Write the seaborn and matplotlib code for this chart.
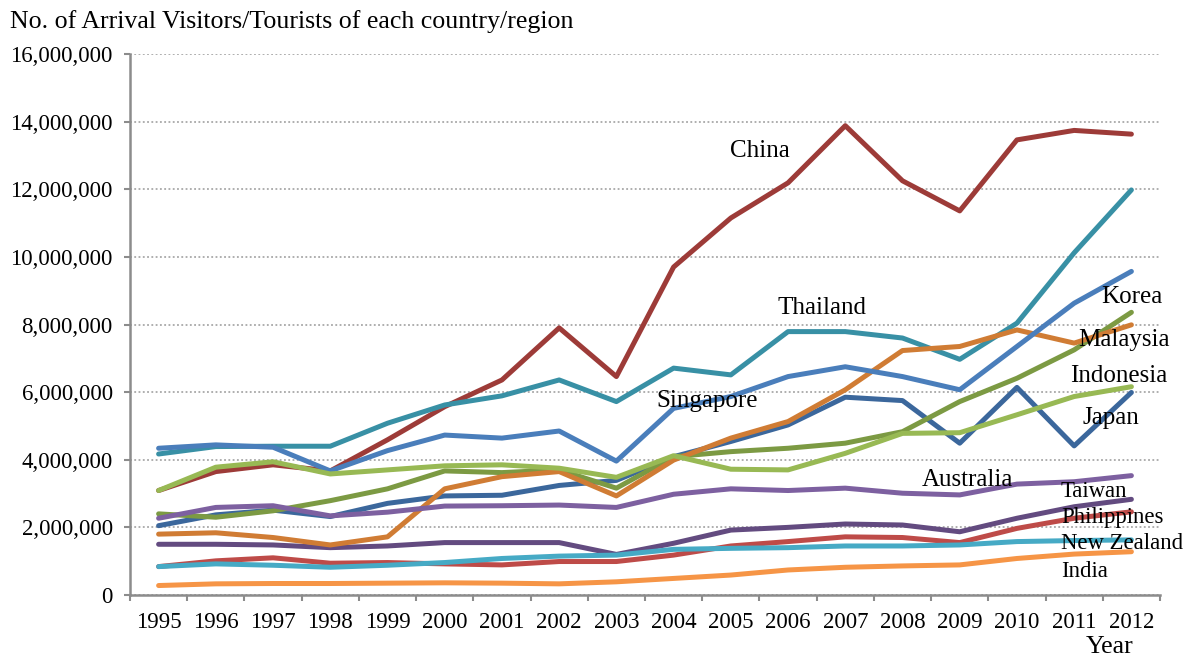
import matplotlib
matplotlib.use("Agg")
import matplotlib.pyplot as plt
import seaborn as sns
import pandas as pd
from matplotlib.ticker import FuncFormatter, MultipleLocator, FixedLocator

# ---------------- data ----------------
years = list(range(1995, 2013))

china = [3.09, 3.65, 3.85, 3.67, 4.59, 5.57, 6.36, 7.90, 6.46, 9.70, 11.15, 12.19, 13.88, 12.25, 11.36, 13.46, 13.74, 13.63]
thailand = [4.17, 4.39, 4.40, 4.40, 5.08, 5.62, 5.89, 6.36, 5.72, 6.71, 6.51, 7.79, 7.79, 7.60, 6.97, 8.04, 10.12, 11.98]
singapore = [4.34, 4.44, 4.37, 3.67, 4.27, 4.73, 4.64, 4.85, 3.96, 5.52, 5.87, 6.46, 6.75, 6.46, 6.07, 7.35, 8.63, 9.57]
korea = [2.40, 2.30, 2.49, 2.79, 3.14, 3.67, 3.62, 3.70, 3.16, 4.09, 4.24, 4.34, 4.49, 4.83, 5.72, 6.41, 7.25, 8.36]
malaysia = [1.80, 1.84, 1.70, 1.48, 1.72, 3.14, 3.50, 3.65, 2.93, 3.99, 4.64, 5.13, 6.07, 7.23, 7.35, 7.84, 7.45, 7.99]
indonesia = [3.09, 3.78, 3.94, 3.58, 3.70, 3.82, 3.85, 3.75, 3.48, 4.12, 3.72, 3.70, 4.19, 4.78, 4.80, 5.33, 5.87, 6.16]
japan = [2.05, 2.37, 2.51, 2.32, 2.71, 2.93, 2.95, 3.24, 3.39, 4.09, 4.54, 5.03, 5.85, 5.75, 4.49, 6.14, 4.41, 5.99]
australia = [2.27, 2.59, 2.64, 2.34, 2.45, 2.63, 2.64, 2.66, 2.59, 2.98, 3.14, 3.09, 3.16, 3.01, 2.96, 3.28, 3.35, 3.53]
taiwan = [1.50, 1.50, 1.48, 1.40, 1.45, 1.55, 1.55, 1.55, 1.20, 1.53, 1.92, 2.00, 2.10, 2.07, 1.87, 2.27, 2.61, 2.83]
philippines = [0.84, 1.01, 1.10, 0.94, 0.96, 0.92, 0.89, 0.99, 0.99, 1.18, 1.45, 1.58, 1.72, 1.70, 1.55, 1.97, 2.27, 2.46]
new_zealand = [0.84, 0.92, 0.88, 0.82, 0.88, 0.96, 1.08, 1.15, 1.18, 1.35, 1.38, 1.40, 1.45, 1.45, 1.48, 1.58, 1.61, 1.63]
india = [0.28, 0.33, 0.34, 0.34, 0.35, 0.36, 0.35, 0.33, 0.39, 0.49, 0.59, 0.74, 0.82, 0.86, 0.89, 1.08, 1.21, 1.28]

series = {
    "Japan": japan, "China": china, "Korea": korea, "Taiwan": taiwan,
    "Thailand": thailand, "Malaysia": malaysia,
    "Singapore": singapore, "Philippines": philippines, "Indonesia": indonesia,
    "Australia": australia, "New Zealand": new_zealand, "India": india,
}

colors = {
    "Singapore": "#4A7EBB", "Philippines": "#BE4B48", "Indonesia": "#98B954",
    "Australia": "#7D60A0", "New Zealand": "#46AAC5", "India": "#F69546",
    "Japan": "#3B679C", "China": "#9D3B38", "Korea": "#7C9A43",
    "Taiwan": "#634B80", "Thailand": "#3890A5", "Malaysia": "#D07C34",
}

rows = []
for name, vals in series.items():
    for y, v in zip(years, vals):
        rows.append({"Year": y, "Visitors": v * 1e6, "Country": name})
df = pd.DataFrame(rows)

# ---------------- style ----------------
sns.set_theme(style="white")
plt.rcParams['font.family'] = ['Liberation Serif', 'DejaVu Serif']
plt.rcParams['lines.solid_capstyle'] = 'round'
plt.rcParams['lines.solid_joinstyle'] = 'round'

W, H = 1193, 659
fig = plt.figure(figsize=(W / 100, H / 100), dpi=100)
ax = fig.add_axes([130 / W, 1 - 595 / H, (1160 - 130) / W, (595 - 54) / H])

sns.lineplot(data=df, x="Year", y="Visitors", hue="Country",
             hue_order=list(series.keys()), palette=colors,
             linewidth=3.6, legend=False, ax=ax, sort=False)

ax.set_xlim(1994.5, 2012.5)
ax.set_ylim(0, 16e6)

grey = "#8C8C8C"
ax.yaxis.set_major_locator(MultipleLocator(2e6))
ax.yaxis.set_major_formatter(FuncFormatter(lambda v, p: f"{int(v):,}"))
ax.yaxis.grid(True, linestyle=(0, (1.2, 1.6)), color="#999999", linewidth=1.1)
ax.xaxis.grid(False)
ax.set_axisbelow(True)

ax.xaxis.set_major_locator(FixedLocator(years))
ax.set_xticklabels([str(y) for y in years])
ax.xaxis.set_minor_locator(FixedLocator([y - 0.5 for y in years] + [2012.5]))

for s in ["top", "right"]:
    ax.spines[s].set_visible(False)
for s in ["left", "bottom"]:
    ax.spines[s].set_color(grey)
    ax.spines[s].set_linewidth(1.8)

tick_fs = 16.5
ax.tick_params(axis="y", which="major", direction="out", length=4.5, width=1.5,
               color=grey, labelsize=tick_fs, pad=8, left=True, labelcolor="black")
ax.tick_params(axis="x", which="major", length=0, labelsize=tick_fs, pad=12, labelcolor="black")
ax.tick_params(axis="x", which="minor", direction="out", length=4.5, width=1.5,
               color=grey, bottom=True)

ax.set_xlabel("")
ax.set_ylabel("")

# ---------------- labels ----------------
big_fs = 18
small_fs = 16.4
center_labels = [
    ("China", 2005.51, 13.14e6),
    ("Thailand", 2006.59, 8.49e6),
    ("Singapore", 2004.58, 5.74e6),
    ("Korea", 2012.0, 8.82e6),
    ("Malaysia", 2011.87, 7.54e6),
    ("Indonesia", 2011.77, 6.48e6),
    ("Japan", 2011.64, 5.24e6),
    ("Australia", 2009.13, 3.40e6),
]
for txt, x, y in center_labels:
    ax.text(x, y, txt, ha="center", va="center", fontsize=big_fs, color="black", clip_on=False)

left_labels = [
    ("Taiwan", 3.06e6),
    ("Philippines", 2.28e6),
    ("New Zealand", 1.51e6),
    ("India", 0.70e6),
]
for txt, y in left_labels:
    ax.text(2010.77, y, txt, ha="left", va="center", fontsize=small_fs, color="black", clip_on=False)

fig.text(10 / W, 1 - 22 / H, "No. of Arrival Visitors/Tourists of each country/region",
         ha="left", va="center", fontsize=18.6, color="black")
fig.text(1110 / W, 1 - 647 / H, "Year", ha="center", va="center", fontsize=18.6, color="black")

fig.savefig("out.png", dpi=100)
